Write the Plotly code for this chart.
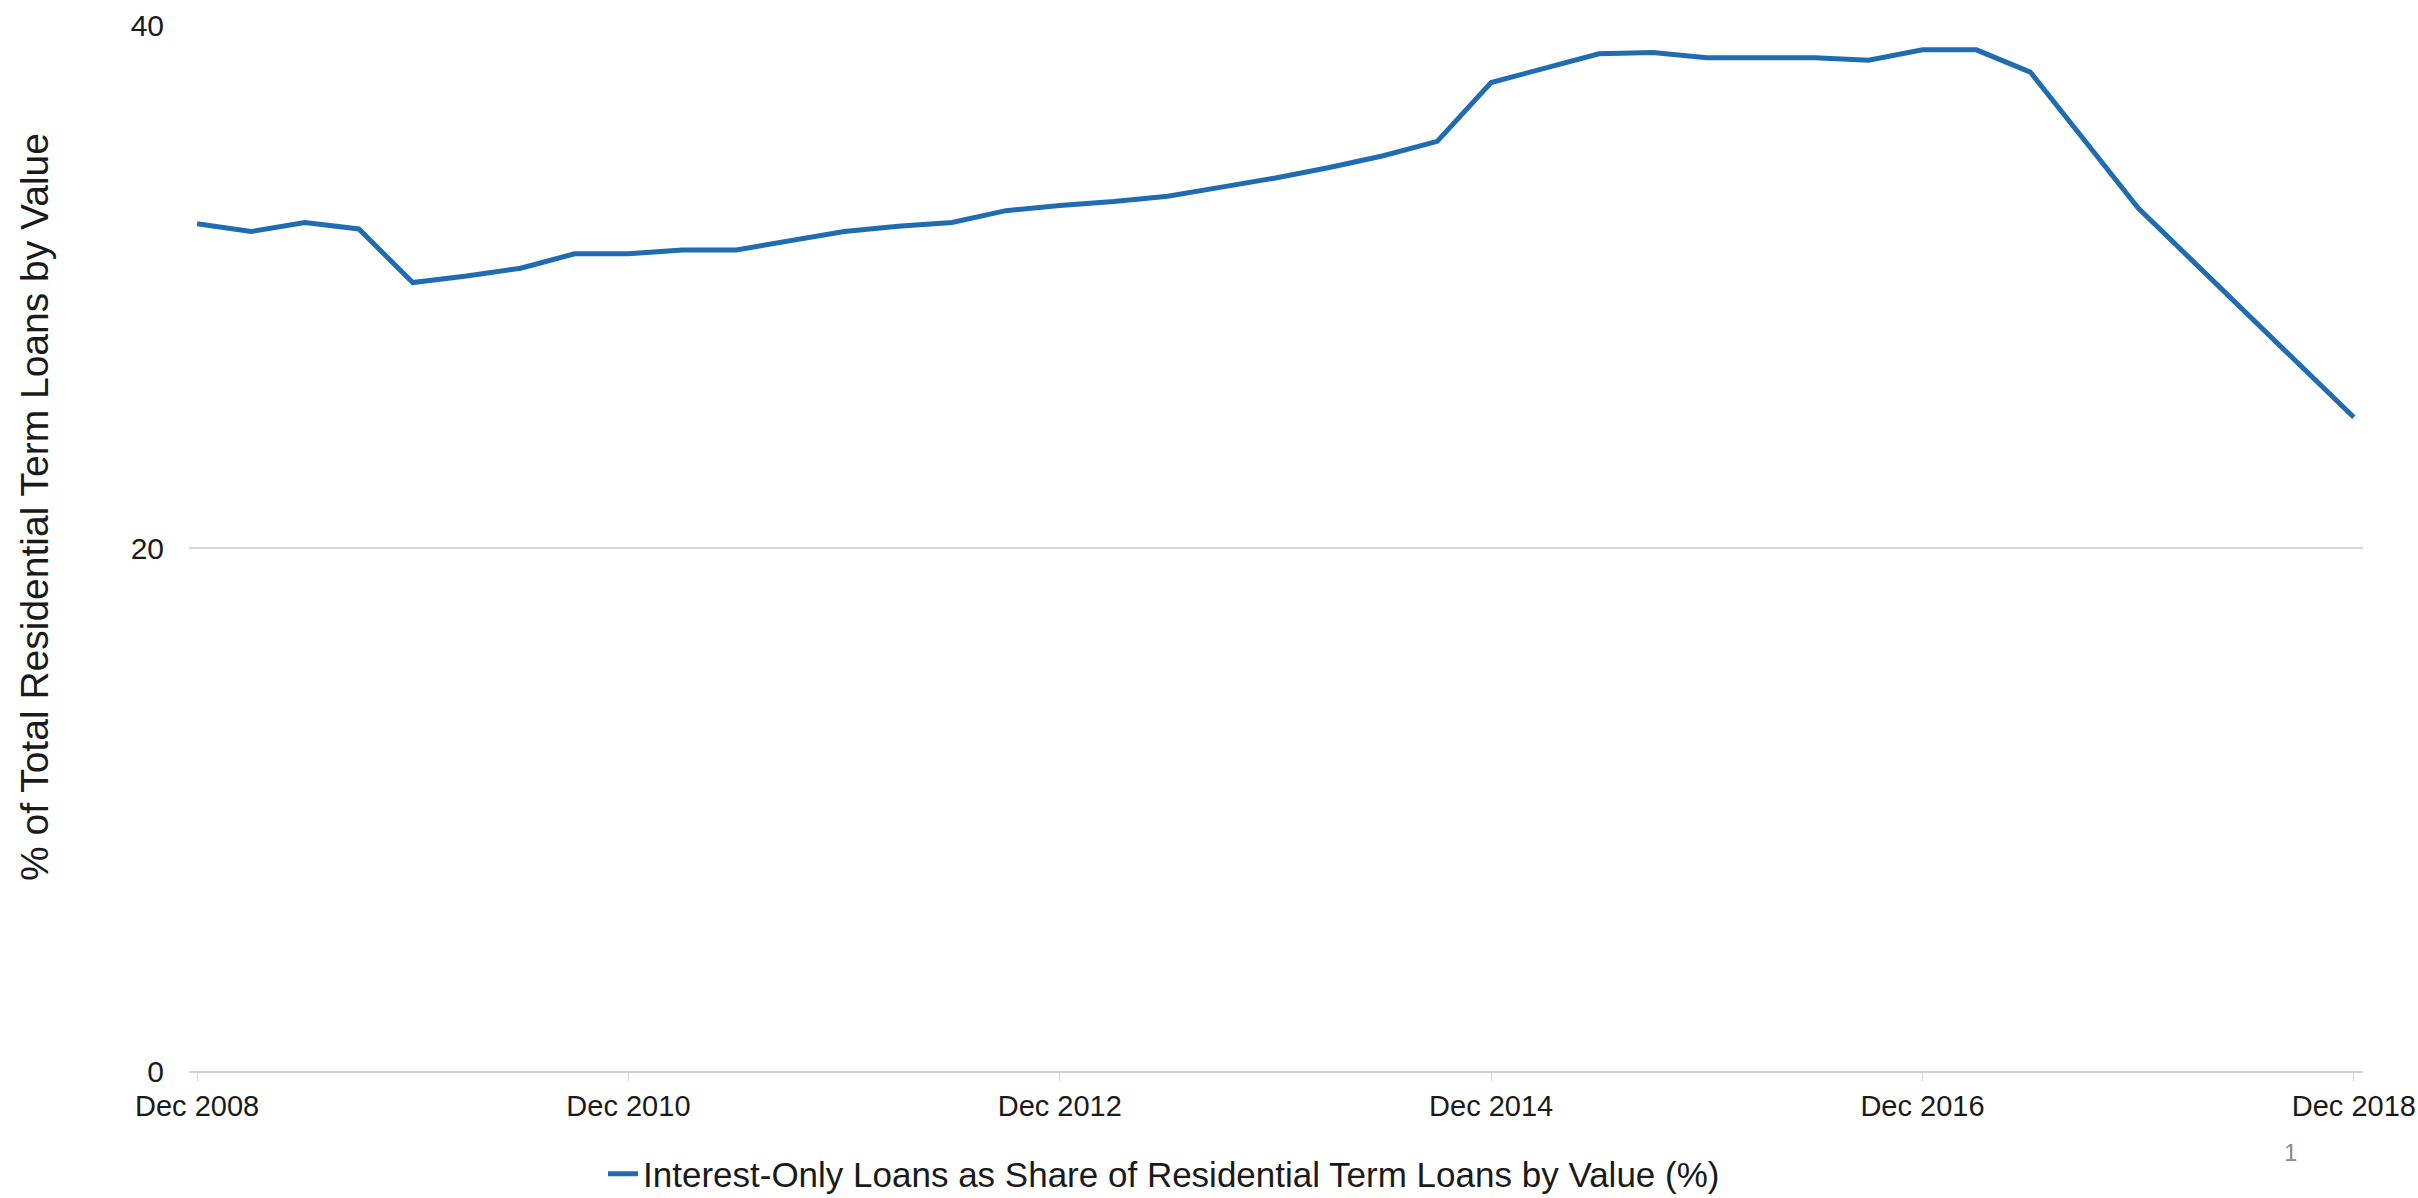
import plotly.graph_objects as go

# Quarterly observations, Dec 2008 - Dec 2018
quarters = []
for yr in range(2008, 2019):
    for m in ["Mar", "Jun", "Sep", "Dec"]:
        if yr == 2008 and m != "Dec":
            continue
        quarters.append(f"{m} {yr}")

io_share = [
    32.4, 32.1, 32.45, 32.2, 30.15, 30.4, 30.7, 31.25,
    31.25, 31.4, 31.4, 31.75, 32.1, 32.3, 32.45, 32.9,
    33.1, 33.25, 33.45, 33.8, 34.15, 34.55, 35.0, 35.55,
    37.8, 38.35, 38.9, 38.95, 38.75, 38.75, 38.75, 38.65,
    39.05, 39.05, 38.2, 35.6, 33.0, 31.0, 29.0, 27.0,
    25.0,
]

x_ticks = ["Dec 2008", "Dec 2010", "Dec 2012", "Dec 2014", "Dec 2016", "Dec 2018"]
y_ticks = [0, 20, 40]

series_name = "Interest-Only Loans as Share of Residential Term Loans by Value (%)"
y_title = "% of Total Residential Term Loans by Value"
page_no = "1"

FONT = "Liberation Sans, Arial, sans-serif"
LINE_COLOR = "#1f6db0"
TEXT = "#1a1a1a"

W, H = 2418, 1198
L, R, T, B = 189, 55, 25, 127
PW, PH = W - L - R, H - T - B

fig = go.Figure()
fig.add_trace(go.Scatter(
    x=quarters, y=io_share, mode="lines", name=series_name,
    line=dict(color=LINE_COLOR, width=5),
))

fig.update_layout(
    width=W, height=H,
    margin=dict(l=L, r=R, t=T, b=B, autoexpand=False),
    paper_bgcolor="white", plot_bgcolor="white",
    font=dict(family=FONT, size=30, color=TEXT),
    showlegend=True,
    legend=dict(
        orientation="h", x=(603 - L) / PW, xanchor="left",
        y=-(1174 - (H - B)) / PH, yanchor="middle",
        font=dict(size=35, color=TEXT), bgcolor="rgba(0,0,0,0)",
    ),
    annotations=[
        dict(text=y_title, textangle=-90, xref="paper", yref="paper",
             x=(34 - L) / PW, y=((H - B) - 507) / PH,
             xanchor="center", yanchor="middle", showarrow=False,
             font=dict(size=39, color=TEXT)),
        dict(text=page_no, xref="paper", yref="paper",
             x=(2290 - L) / PW, y=-(1152 - (H - B)) / PH,
             xanchor="center", yanchor="middle", showarrow=False,
             font=dict(size=24, color="#8c8c8c")),
    ],
)

fig.update_xaxes(
    type="category", categoryorder="array", categoryarray=quarters,
    range=[-0.15, len(quarters) - 1 + 0.17],
    tickmode="array", tickvals=x_ticks, ticktext=x_ticks,
    showgrid=False, zeroline=False, automargin=False,
    showline=True, linecolor="#d0d0d0", linewidth=2,
    ticks="outside", ticklen=8, tickcolor="#d0d0d0", tickwidth=1,
    tickfont=dict(size=29, color=TEXT),
)
fig.update_yaxes(
    range=[0, 40], tickmode="array", tickvals=y_ticks,
    showgrid=True, gridcolor="#d9d9d9", gridwidth=2,
    zeroline=False, showline=False, ticks="", automargin=False,
    tickfont=dict(size=30, color=TEXT),
    ticklabelstandoff=24,
)

fig.write_html(
    "out.html",
    config={"displayModeBar": False},
    post_script="document.body.style.margin='0';document.body.style.overflow='hidden';",
)
